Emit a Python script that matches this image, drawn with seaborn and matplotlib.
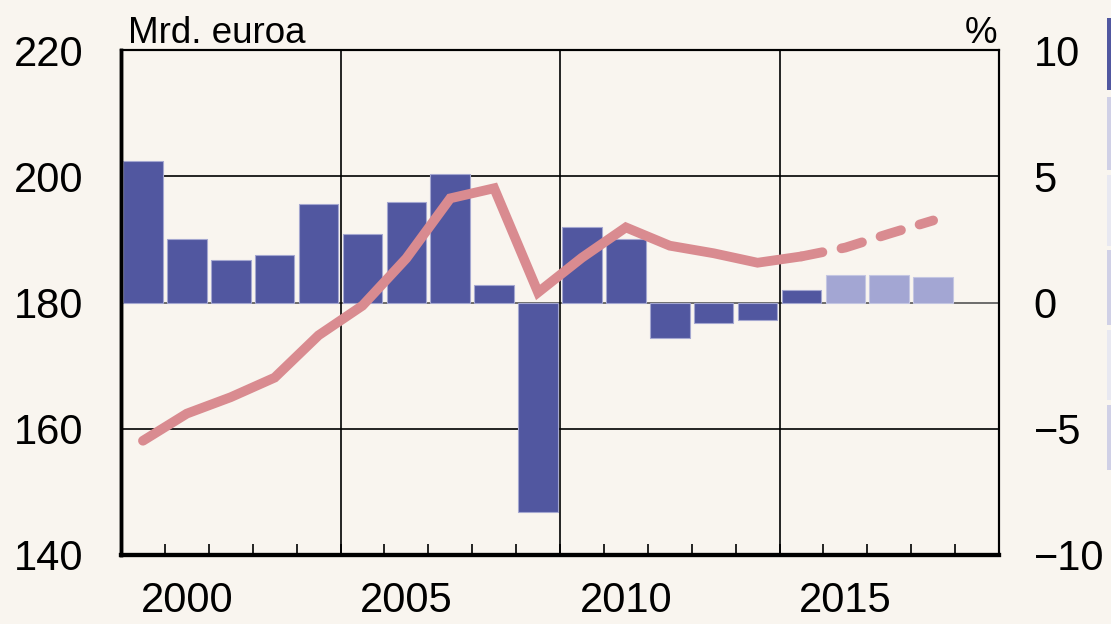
import numpy as np
import pandas as pd
import matplotlib
matplotlib.use("Agg")
import matplotlib.pyplot as plt
from matplotlib.patches import Rectangle
import seaborn as sns

# Data
years_actual = [1999, 2000, 2001, 2002, 2003, 2004, 2005, 2006, 2007, 2008,
                2009, 2010, 2011, 2012, 2013, 2014]
change_actual = [5.6, 2.5, 1.7, 1.9, 3.9, 2.7, 4.0, 5.1, 0.7, -8.3,
                 3.0, 2.5, -1.4, -0.8, -0.7, 0.5]
years_forecast = [2015, 2016, 2017]
change_forecast = [1.1, 1.1, 1.0]

level_years = [1999, 2000, 2001, 2002, 2003, 2004, 2005, 2006, 2007, 2008,
               2009, 2010, 2011, 2012, 2013, 2014]
level_values = [158.1, 162.4, 165.0, 168.1, 174.8, 179.5, 187.0, 196.5, 198.1, 181.6,
                187.1, 191.9, 189.0, 187.8, 186.3, 187.3]
level_fc_years = [2014, 2015, 2016, 2017]
level_fc_values = [187.3, 188.7, 190.9, 193.0]

x_labels = [2000, 2005, 2010, 2015]

# Colours
bg = "#f9f5ef"
dark_blue = "#5157a0"
light_blue = "#a3a6d3"
rose = "#d98b90"

sns.set_theme(style="white")
plt.rcParams["font.family"] = ["Liberation Sans", "DejaVu Sans"]

fig = plt.figure(figsize=(11.11, 6.24), dpi=100, facecolor=bg)
ax = fig.add_axes([121 / 1111, 1 - 555 / 624, 878 / 1111, 505 / 624])
ax.set_facecolor(bg)

df_act = pd.DataFrame({"year": years_actual, "pct": change_actual})
df_fc = pd.DataFrame({"year": years_forecast, "pct": change_forecast})

# bars (percent change) on the main axes
sns.barplot(data=df_act, x="year", y="pct", native_scale=True, width=0.9,
            color=dark_blue, saturation=1, edgecolor="#a4a7d0", linewidth=0.8,
            ax=ax, zorder=2)
sns.barplot(data=df_fc, x="year", y="pct", native_scale=True, width=0.9,
            color=light_blue, saturation=1, edgecolor="#c4c6e2", linewidth=0.8,
            ax=ax, zorder=2)

ax.set_xlim(1998.5, 2018.5)
ax.set_ylim(-10, 10)
ax.set_xlabel("")
ax.set_ylabel("")

# horizontal grid lines
for yv in [-5, 0, 5]:
    ax.axhline(yv, color="#555555" if yv == 0 else "black", lw=1.2, zorder=1)
# vertical grid lines every five years
for xv in [2003.5, 2008.5, 2013.5]:
    ax.axvline(xv, color="black", lw=1.2, zorder=1)

ax.set_xticks(x_labels)
ax.set_xticklabels([str(v) for v in x_labels])
ax.set_xticks(np.arange(1999.5, 2018.5, 1.0), minor=True)
ax.tick_params(axis="x", which="major", length=0, pad=19, labelsize=30, colors="black")
ax.tick_params(axis="x", which="minor", direction="in", length=8, width=1.2,
               color="black", bottom=True)

# line (billion euros) on the twin axes
ax2 = ax.twinx()
sns.lineplot(x=level_years, y=level_values, color=rose, lw=7,
             solid_capstyle="round", solid_joinstyle="miter", ax=ax2, zorder=3)
sns.lineplot(x=level_fc_years, y=level_fc_values, color=rose, lw=7,
             linestyle=(0, (2.2, 2.0)), dash_capstyle="round", ax=ax2, zorder=3)
ax2.set_ylim(140, 220)
ax2.set_xlim(1998.5, 2018.5)

# percent ticks on the right, euro ticks on the left (after twinx)
ax.yaxis.tick_right()
ax.set_yticks([-10, -5, 0, 5, 10])
ax.tick_params(axis="y", length=0, pad=25, labelsize=30, colors="black",
               left=False, labelleft=False, right=True, labelright=True)
ax2.yaxis.tick_left()
ax2.set_yticks([140, 160, 180, 200, 220])
ax2.tick_params(axis="y", length=0, pad=27, labelsize=30, colors="black",
                left=True, labelleft=True, right=False, labelright=False)

for a in (ax, ax2):
    for side in ["top", "right"]:
        a.spines[side].set_color("black")
        a.spines[side].set_linewidth(1.5)
    a.spines["left"].set_color("black")
    a.spines["left"].set_linewidth(2.5)
    a.spines["bottom"].set_color("black")
    a.spines["bottom"].set_linewidth(3)

# unit labels
fig.text(128 / 1111, 1 - 43 / 624, "Mrd. euroa", fontsize=26.5, color="black",
         ha="left", va="baseline")
fig.text(997 / 1111, 1 - 43 / 624, "%", fontsize=26.5, color="black",
         ha="right", va="baseline")

# cut-off legend strip at the right edge
strips = [(18, 90, dark_blue), (97, 170, "#d0d0e6"), (175, 246, "#e8e8f1"),
          (250, 325, "#d0d0e6"), (330, 400, "#e8e8f1"), (405, 470, "#d0d0e6")]
for top, bottom, col in strips:
    fig.patches.append(Rectangle((1107 / 1111, 1 - bottom / 624), 10 / 1111,
                                 (bottom - top) / 624, transform=fig.transFigure,
                                 facecolor=col, edgecolor="none", figure=fig))

fig.savefig("out.png", dpi=100, facecolor=bg)
